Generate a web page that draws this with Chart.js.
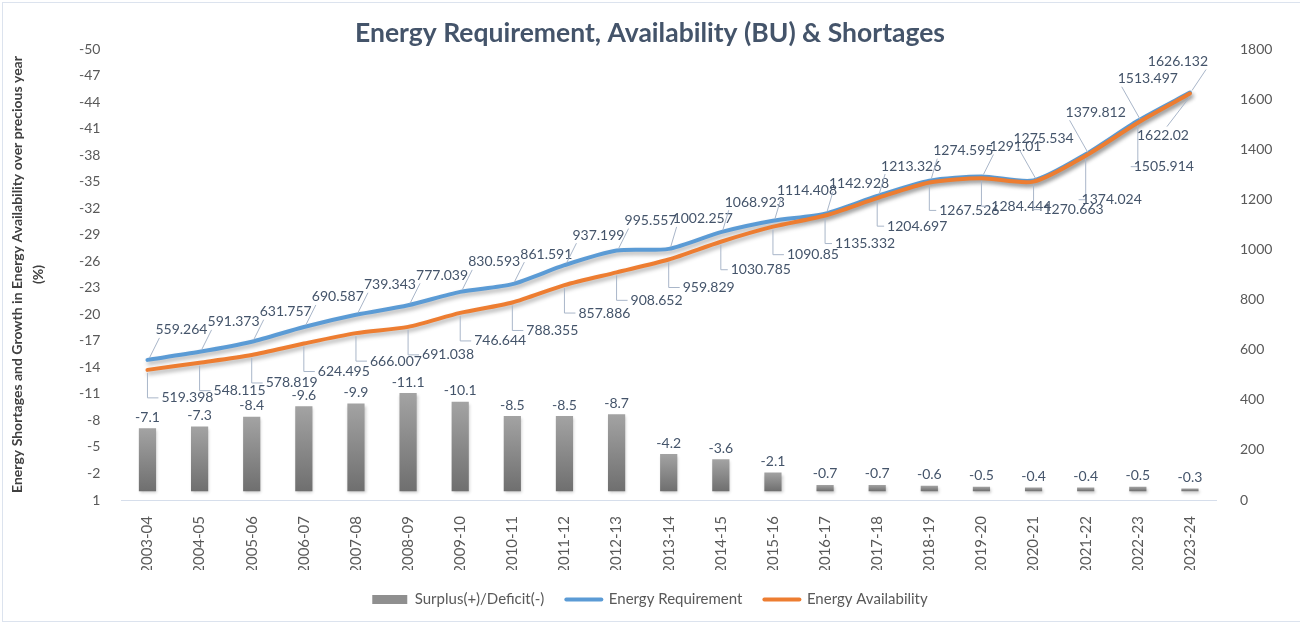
<!DOCTYPE html>
<html><head><meta charset="utf-8">
<script src="https://cdn.jsdelivr.net/npm/chart.js@4.4.1/dist/chart.umd.min.js"></script>
<style>html,body{margin:0;padding:0;background:#fff;overflow:hidden}canvas{display:block}</style>
</head><body>
<canvas id="c" width="1300" height="623"></canvas>
<script>
const categories = ['2003-04','2004-05','2005-06','2006-07','2007-08','2008-09','2009-10','2010-11','2011-12','2012-13','2013-14','2014-15','2015-16','2016-17','2017-18','2018-19','2019-20','2020-21','2021-22','2022-23','2023-24'];
const surplusDeficit = [-7.1,-7.3,-8.4,-9.6,-9.9,-11.1,-10.1,-8.5,-8.5,-8.7,-4.2,-3.6,-2.1,-0.7,-0.7,-0.6,-0.5,-0.4,-0.4,-0.5,-0.3];
const energyRequirement = [559.264,591.373,631.757,690.587,739.343,777.039,830.593,861.591,937.199,995.557,1002.257,1068.923,1114.408,1142.928,1213.326,1274.595,1291.01,1275.534,1379.812,1513.497,1626.132];
const energyAvailability = [519.398,548.115,578.819,624.495,666.007,691.038,746.644,788.355,857.886,908.652,959.829,1030.785,1090.85,1135.332,1204.697,1267.526,1284.444,1270.663,1374.024,1505.914,1622.02];
const seriesNames = ['Surplus(+)/Deficit(-)','Energy Requirement','Energy Availability'];
const chartTitle = 'Energy Requirement, Availability (BU) & Shortages';
const leftAxisTitle = ['Energy Shortages and Growth in Energy Availability over precious year','(%)'];

const FONT = 'Lato, "Open Sans", sans-serif';
const TEXT = '#44546A';
const TICK = '#595959';
const LEADER = '#A9B6C9';

const shadowPlugin = {
  id: 'shadow',
  beforeDatasetDraw(chart, args) {
    const ctx = chart.ctx; ctx.save();
    const t = chart.data.datasets[args.index].type;
    if (t === 'line') { ctx.shadowColor = 'rgba(0,0,0,0.30)'; ctx.shadowBlur = 4; ctx.shadowOffsetX = 1.5; ctx.shadowOffsetY = 3; }
    else { ctx.shadowColor = 'rgba(0,0,0,0.22)'; ctx.shadowBlur = 3; ctx.shadowOffsetX = 1; ctx.shadowOffsetY = 2; }
  },
  afterDatasetDraw(chart) { chart.ctx.restore(); }
};

const framePlugin = {
  id: 'frame',
  beforeDraw(chart) { const c = chart.ctx; c.save(); c.fillStyle = '#fff'; c.fillRect(0,0,chart.width,chart.height); c.restore(); },
  afterDraw(chart) { const c = chart.ctx; c.save(); c.strokeStyle = '#DCE3EE'; c.lineWidth = 1; c.strokeRect(2.5,2.5,1300,619); c.restore(); }
};

const labelPlugin = {
  id: 'valueLabels',
  afterDatasetsDraw(chart) {
    const ctx = chart.ctx; ctx.save();
    ctx.font = '14px ' + FONT; ctx.textAlign = 'center'; ctx.textBaseline = 'middle';
    chart.getDatasetMeta(0).data.forEach((el, i) => {
      ctx.fillStyle = TEXT;
      ctx.fillText(String(surplusDeficit[i]), el.x, el.y - 11);
    });
    const n = categories.length;
    chart.getDatasetMeta(1).data.forEach((el, i) => {
      const txt = String(energyRequirement[i]);
      let dx = 34, dy = -30;
      if (i === n - 1) { dx = -12; dy = -31; }
      else if (i >= n - 4) { dx = 10; dy = -42; }
      const tx = el.x + dx, ty = el.y + dy, w = ctx.measureText(txt).width;
      ctx.strokeStyle = LEADER; ctx.lineWidth = 1;
      ctx.beginPath(); ctx.moveTo(el.x + 2, el.y - 2);
      if (i === n - 1) ctx.lineTo(tx + w/2 - 2, ty + 8); else ctx.lineTo(tx - w/2 + 4, ty + 8);
      ctx.stroke();
      ctx.fillStyle = TEXT; ctx.fillText(txt, tx, ty);
    });
    chart.getDatasetMeta(2).data.forEach((el, i) => {
      const txt = String(energyAvailability[i]);
      let dx = 40, dy = 28;
      if (i === n - 1) { dx = -27; dy = 42; }
      else if (i >= n - 3) { dx = 26; dy = 44; }
      const tx = el.x + dx, ty = el.y + dy, w = ctx.measureText(txt).width;
      ctx.strokeStyle = LEADER; ctx.lineWidth = 1;
      ctx.beginPath(); ctx.moveTo(el.x, el.y + 3);
      if (i === n - 1) { ctx.lineTo(tx + 4, ty - 9); }
      else { ctx.lineTo(el.x, ty); ctx.lineTo(tx - w/2 - 3, ty); }
      ctx.stroke();
      ctx.fillStyle = TEXT; ctx.fillText(txt, tx, ty);
    });
    ctx.restore();
  }
};

function barGradient(c) {
  const chart = c.chart;
  if (!chart.chartArea || c.type !== 'data') return '#8c8c8c';
  const ys = chart.scales.y;
  const top = ys.getPixelForValue(c.raw), base = ys.getPixelForValue(0);
  if (!isFinite(top) || !isFinite(base) || top === base) return '#8c8c8c';
  const g = chart.ctx.createLinearGradient(0, top, 0, base);
  g.addColorStop(0, '#a3a3a3'); g.addColorStop(1, '#6f6f6f');
  return g;
}

Chart.defaults.font.family = FONT;

new Chart(document.getElementById('c'), {
  data: {
    labels: categories,
    datasets: [
      { type: 'bar', label: seriesNames[0], data: surplusDeficit, yAxisID: 'y', backgroundColor: barGradient, barPercentage: 0.33, categoryPercentage: 1.0, order: 3 },
      { type: 'line', label: seriesNames[1], data: energyRequirement, yAxisID: 'y1', borderColor: '#5B9BD5', backgroundColor: '#5B9BD5', borderWidth: 4, pointRadius: 0, tension: 0.25, borderCapStyle: 'round', borderJoinStyle: 'round', order: 2 },
      { type: 'line', label: seriesNames[2], data: energyAvailability, yAxisID: 'y1', borderColor: '#ED7D31', backgroundColor: '#ED7D31', borderWidth: 4, pointRadius: 0, tension: 0.25, borderCapStyle: 'round', borderJoinStyle: 'round', order: 1 }
    ]
  },
  options: {
    responsive: false, animation: false, devicePixelRatio: 1,
    layout: { padding: { left: 0, right: 0, top: 0, bottom: 6 } },
    plugins: {
      tooltip: { enabled: false },
      title: { display: true, text: chartTitle, color: TEXT, font: { size: 26.5, weight: 'bold', family: FONT, lineHeight: 1.2 }, padding: { top: 17.2, bottom: 0 } },
      legend: {
        position: 'bottom',
        labels: {
          usePointStyle: true, pointStyleWidth: 35, boxHeight: 9, padding: 22, color: TICK, font: { size: 15, family: FONT },
          generateLabels(chart) {
            return chart.data.datasets.map((ds, i) => ({
              text: ds.label, datasetIndex: i, hidden: false,
              fillStyle: i === 0 ? '#8f8f8f' : ds.borderColor,
              strokeStyle: i === 0 ? '#8f8f8f' : ds.borderColor,
              lineWidth: i === 0 ? 0 : 4, lineCap: 'round',
              pointStyle: i === 0 ? 'rect' : 'line', fontColor: TICK
            }));
          }
        }
      }
    },
    scales: {
      x: {
        type: 'category', offset: true,
        grid: { display: false },
        border: { display: true, color: '#D6DEEB', width: 1 },
        ticks: { color: TICK, font: { size: 15 }, minRotation: 90, maxRotation: 90, padding: 8, autoSkip: false },
        afterFit(s) { s.height = 70; }
      },
      y: {
        position: 'left', reverse: true, min: -50, max: 1,
        ticks: { stepSize: 3, color: TICK, font: { size: 14 }, padding: 13, callback: v => String(v) },
        grid: { display: false }, border: { display: false },
        title: { display: true, text: leftAxisTitle, color: '#404040', font: { size: 14, weight: 'bold', lineHeight: 1.5 }, padding: { top: 6.5, bottom: 0 } },
        afterFit(s) { s.width = 121.4; }
      },
      y1: {
        position: 'right', min: 0, max: 1800,
        ticks: { stepSize: 200, color: TICK, font: { size: 14 }, padding: 16, callback: v => String(v) },
        grid: { display: false }, border: { display: false },
        afterFit(s) { s.width = 84; }
      }
    }
  },
  plugins: [framePlugin, shadowPlugin, labelPlugin]
});
</script>
</body></html>
